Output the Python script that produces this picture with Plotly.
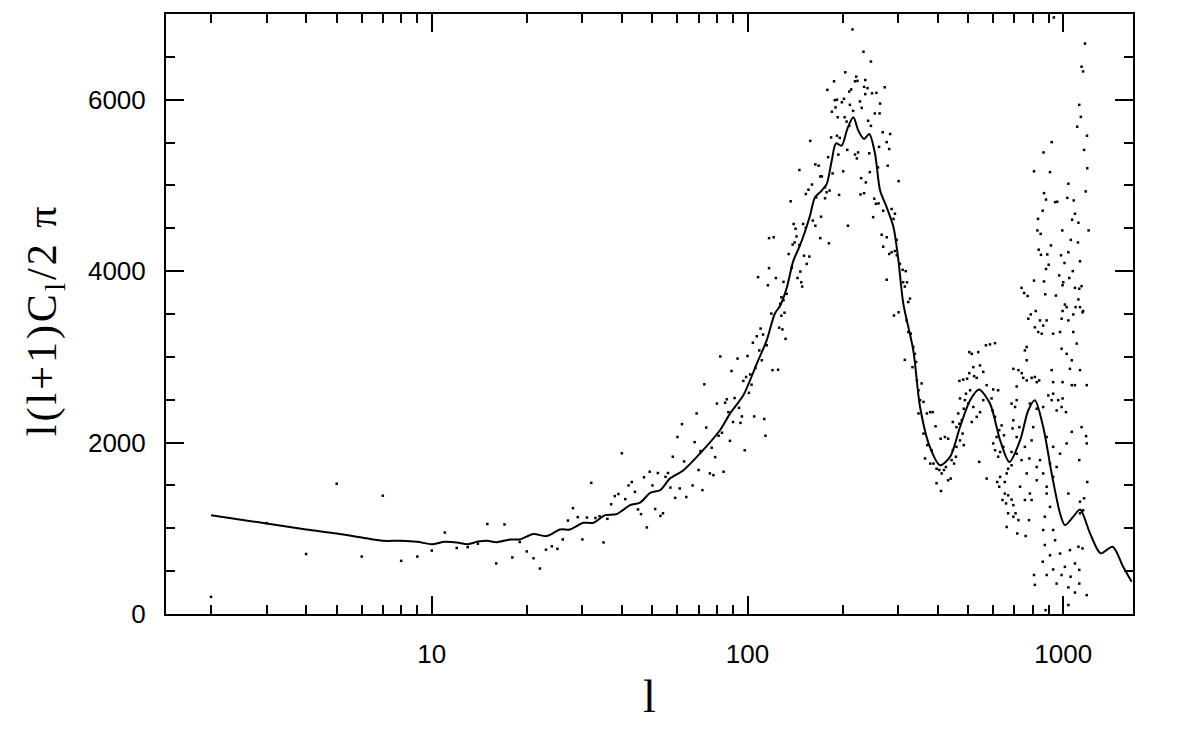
import numpy as np
import plotly.graph_objects as go

# model curve (theory spectrum)
l_model = [2, 3, 4, 5, 6, 7, 8, 9, 10, 11, 12, 13, 14, 15, 16, 17.7, 19, 21, 23.1, 25.5,
           27.4, 30.2, 32.5, 35.4, 38.5, 42.5, 45.7, 49.2, 52.9, 56.8, 62.7, 70.7, 81.8, 88,
           97, 107, 115, 122, 127, 133, 139.7, 146.6, 152, 157.8, 163.6, 171.8, 178.2, 184.8,
           190.7, 198.7, 207, 216.4, 224.4, 234, 243, 253.5, 263, 276, 290, 300.6, 311.5,
           335, 352, 378, 407, 438, 471, 507, 541, 586, 631, 675, 730, 775, 813, 864, 919,
           977, 1012, 1075, 1131, 1216, 1314, 1433, 1548, 1647]
cl_model = [1153, 1056, 986, 940, 893, 854, 854, 842, 815, 842, 835, 815, 845, 854, 838, 870,
            870, 932, 909, 986, 986, 1064, 1064, 1153, 1165, 1270, 1300, 1413, 1445, 1581,
            1678, 1872, 2144, 2338, 2551, 2921, 3192, 3503, 3600, 3800, 4120, 4300, 4460,
            4650, 4862, 4940, 5018, 5289, 5491, 5464, 5658, 5794, 5639, 5542, 5600, 5367,
            4940, 4745, 4512, 4124, 3620, 3076, 2415, 1949, 1736, 1833, 2182, 2493, 2618,
            2455, 2027, 1774, 2027, 2377, 2493, 2182, 1639, 1173, 1037, 1134, 1220, 940, 707,
            784, 551, 376]

# simulated measurements, low l
l_low = list(range(2, 54))
cl_low = [200, 1060, 700, 1520, 670, 1380, 620, 670, 740, 950, 770, 780, 820, 1050, 590,
          1045, 660, 840, 730, 650, 530, 750, 790, 760, 870, 1090, 1235, 1130, 870, 1125,
          1530, 1120, 1140, 835, 1110, 1280, 1375, 1400, 1875, 1340, 1500, 1540, 1425, 1220,
          1165, 1595, 1010, 1660, 1500, 1225, 1645, 1145]

# rising side of the first peak
l_rise = [54, 55, 56, 57, 58, 59, 60, 61, 62, 63, 64, 67, 68, 69, 70, 71, 72, 73, 74, 76,
          77, 78, 79, 80, 81, 82, 83, 84, 85, 86, 87, 88, 89, 90, 91, 93, 94, 95, 96, 97,
          98, 99, 100, 101, 102, 103, 104, 105, 106, 107, 108, 109, 110, 111, 112, 113, 114,
          115, 116, 117, 117, 119, 120, 121, 123, 125, 126, 127, 128, 129, 130, 131, 132,
          133, 135, 138, 139, 141, 142, 140, 143, 144, 147, 148, 149, 146, 150, 151, 154,
          157, 153, 164, 137, 130, 128]
cl_rise = [1175, 1600, 1645, 1475, 1835, 1355, 2065, 1465, 2215, 1780, 1365, 1500, 2005,
           2340, 1680, 1900, 1445, 2680, 2175, 1640, 1940, 1620, 1830, 2455, 2080, 3005, 2115,
           1660, 2465, 2505, 2355, 2020, 2835, 2240, 2520, 2980, 2405, 2230, 2305, 2720, 1910,
           2765, 3010, 2580, 2795, 2675, 3165, 2305, 2870, 3240, 3930, 3075, 3330, 2960, 3260,
           2275, 2080, 3135, 3835, 4035, 4385, 3505, 2845, 4395, 3920, 2850, 3340, 3620, 3480,
           3320, 3875, 3515, 3210, 3735, 4200, 4040, 4310, 4335, 4495, 4550, 4405, 3920, 3995,
           3870, 3820, 4305, 4550, 4180, 4085, 4170, 4505, 4530, 4815, 3660, 3695]

# around the top of the first peak
l_peak = [215, 233, 246, 204, 221, 188, 223, 236, 219, 272, 179, 210, 213, 234, 240, 236,
          248, 256, 189, 192, 199, 202, 227, 263, 190, 211, 216, 230, 253, 262, 185, 193,
          203, 206, 210, 241, 246, 158, 184, 192, 196, 268, 283, 261, 276, 281, 207, 219,
          224, 243, 194, 222, 180, 164, 168, 259, 278, 146, 201, 186, 244, 170, 172, 229,
          237, 301, 160, 176, 182, 178, 153, 156, 195, 228, 234, 165, 176, 252, 260, 255,
          269, 286, 293, 290, 250, 161, 171, 208, 266, 276, 297, 170, 181, 269, 281, 286,
          293, 297, 304, 310, 317, 276, 311, 320, 315, 327, 323, 291, 301, 319, 323, 329, 315]
cl_peak = [6820, 6560, 6445, 6320, 6270, 6215, 6220, 6230, 6215, 6145, 6115, 6095, 6120, 6150,
           6135, 6065, 6075, 6080, 5995, 6000, 5970, 6010, 5980, 5955, 5910, 5940, 5870, 5905,
           5840, 5840, 5860, 5795, 5795, 5745, 5695, 5755, 5695, 5520, 5560, 5580, 5555, 5620,
           5600, 5450, 5505, 5425, 5415, 5360, 5385, 5375, 5360, 5315, 5330, 5245, 5230, 5210,
           5230, 5180, 5165, 5140, 5155, 5105, 5105, 5085, 5035, 5050, 5010, 4980, 4940, 4920,
           4900, 4950, 4890, 4895, 4910, 4860, 4850, 4845, 4790, 4785, 4705, 4725, 4670, 4610,
           4630, 4590, 4635, 4530, 4425, 4395, 4365, 4385, 4325, 4285, 4200, 4220, 4235, 4185,
           4085, 4015, 4000, 3900, 3870, 3870, 3820, 3680, 3640, 3483, 3520, 3425, 3290, 3270,
           2965]

# second and third peaks, trough between
l_mid = [335, 339, 333, 342, 344, 348, 356, 352, 361, 348, 370, 379, 386, 361, 371, 365, 383,
         394, 409, 422, 432, 379, 388, 397, 405, 412, 419, 425, 432, 440, 397, 410, 443, 451,
         457, 447, 459, 484, 471, 480, 459, 447, 469, 477, 465, 484, 471, 488, 500, 492, 507,
         469, 482, 496, 504, 522, 532, 504, 513, 538, 519, 545, 558, 569, 586, 608, 519, 532,
         513, 545, 558, 572, 593, 600, 622, 608, 597, 627, 638, 649, 615, 600, 608, 622, 631,
         646, 542, 572, 618, 631, 627, 653, 662, 669, 686, 653, 669, 642, 659, 686, 695, 669,
         695, 721, 662, 715, 760, 779]
cl_mid = [3115, 3035, 2880, 2940, 2725, 2610, 2690, 2495, 2475, 2340, 2340, 2355, 2355, 2105,
          1970, 1815, 1910, 2190, 2045, 2065, 2045, 1755, 1755, 1695, 1680, 1640, 1680, 1715,
          1560, 1580, 1525, 1435, 1795, 1755, 1835, 1910, 1950, 1970, 2025, 2105, 2180, 2240,
          2220, 2260, 2340, 2395, 2515, 2495, 2455, 2570, 2610, 2720, 2735, 2745, 2810, 2775,
          2755, 3055, 3035, 3055, 2880, 2900, 2825, 3135, 3145, 3160, 2415, 2300, 2240, 2355,
          2495, 2670, 2515, 2620, 2610, 2300, 2375, 2145, 2200, 2085, 2065, 1990, 1910, 1835,
          1890, 1950, 1775, 1580, 1540, 1600, 1485, 1540, 1640, 1695, 1735, 1405, 1385, 1330,
          1290, 1335, 1270, 1175, 1135, 1095, 1015, 940, 910, 1095]

# noisy high-l points
l_high = [691, 712, 726, 695, 704, 686, 712, 695, 721, 739, 747, 766, 794, 813, 839, 824,
          712, 784, 824, 864, 919, 897, 929, 964, 995, 953, 988, 1020, 766, 756, 813, 833,
          864, 844, 886, 855, 929, 977, 988, 1038, 1025, 1076, 1103, 1130, 1151, 1025, 988,
          1064, 1130, 1050, 919, 929, 995, 1064, 1089, 1187, 766, 803, 886, 929, 977, 1025,
          1064, 1143, 1181, 1187, 1124, 1191, 1038, 1130, 1164, 1156, 794, 844, 864, 824,
          784, 794, 886, 908, 874, 864, 929, 942, 874, 908, 977, 1050, 1117, 1151, 861, 929,
          1012, 1089, 1124, 808, 886, 988, 1055, 813, 953, 1038, 1124, 1089, 1187, 1038, 879,
          706, 756, 730, 766, 781, 738, 712, 686, 756, 886, 929, 953, 908, 824, 1130]
cl_high = [2165, 2065, 2180, 2260, 2415, 2455, 2655, 2860, 2845, 2810, 2755, 2725, 2755, 2765,
           2725, 2705, 2495, 2455, 2395, 2415, 2495, 2550, 2570, 2495, 2515, 2375, 2415, 2355,
           3115, 3075, 3345, 3290, 3365, 3425, 3425, 3270, 3270, 3290, 3445, 3425, 3580, 3290,
           3155, 3580, 3520, 3035, 3095, 2960, 2845, 2860, 2845, 2705, 2705, 2670, 2670, 2670,
           2960, 2180, 2065, 1950, 1870, 1990, 2125, 2180, 2075, 1990, 1795, 1540, 1405, 1310,
           1350, 1210, 2025, 1795, 1640, 1560, 1405, 1330, 1405, 1250, 1135, 980, 980, 860,
           805, 685, 705, 745, 785, 765, 610, 520, 550, 590, 515, 455, 455, 455, 435, 340, 355,
           310, 355, 250, 220, 105, 45, 1175, 1330, 1485, 1640, 1815, 1795, 1870, 1890, 1950,
           1485, 1600, 1715, 1755, 1715, 1175]

# highest scatter (top right)
l_top = [934, 1172, 1143, 1156, 1124, 1137, 1107, 1189, 1164, 1191, 919, 866, 808, 908, 1038,
         1178, 869, 882, 942, 957, 1030, 1079, 861, 1089, 832, 1067, 1117, 828, 848, 993,
         1203, 1057, 1113, 914, 836, 850, 890, 984, 1038, 1130, 1009, 899, 882, 1072, 971,
         1045, 808, 869, 1000, 995, 1143, 738, 1089, 1124, 752, 771, 877, 948, 1117, 1012,
         1094, 1156, 818, 995, 1076, 789, 775]
cl_top = [6960, 6655, 6385, 6330, 5940, 5800, 5685, 5580, 5415, 5200, 5505, 5385, 5165, 5155,
          5020, 4930, 4910, 4835, 4805, 4810, 4855, 4825, 4705, 4670, 4610, 4600, 4565, 4475,
          4435, 4475, 4475, 4365, 4335, 4300, 4250, 4190, 4195, 4185, 4220, 4115, 4095, 4075,
          4025, 4000, 3950, 3920, 3890, 3880, 3870, 3835, 3825, 3805, 3805, 3795, 3745, 3710,
          3730, 3715, 3670, 3610, 3580, 3535, 3535, 3535, 3495, 3495, 3445]

l_pts = l_low + l_rise + l_peak + l_mid + l_high + l_top
cl_pts = cl_low + cl_rise + cl_peak + cl_mid + cl_high + cl_top

x_major = [10, 100, 1000]
x_minor = [2, 3, 4, 5, 6, 7, 8, 9, 20, 30, 40, 50, 60, 70, 80, 90,
           200, 300, 400, 500, 600, 700, 800, 900]
y_major = [0, 2000, 4000, 6000]

fig = go.Figure()

fig.add_trace(go.Scatter(
    x=l_pts, y=cl_pts,
    mode='markers',
    marker=dict(color='black', size=2.5, symbol='square', line=dict(width=0)),
    showlegend=False
))

fig.add_trace(go.Scatter(
    x=l_model, y=cl_model,
    mode='lines',
    line=dict(color='black', width=2, shape='spline', smoothing=0.8),
    showlegend=False
))

axis_style = dict(
    showline=True, linecolor='black', linewidth=2, mirror='ticks',
    ticks='inside', ticklen=18, tickwidth=2, tickcolor='black',
    showgrid=False, zeroline=False,
    tickfont=dict(family='Liberation Sans, Arial', size=26, color='black'),
)

fig.update_xaxes(
    type='log', range=[np.log10(1.44), np.log10(1663)],
    tickmode='array', tickvals=x_major, ticktext=[str(v) for v in x_major],
    minor=dict(tickmode='array', tickvals=x_minor, ticks='inside', ticklen=9,
               tickwidth=2, tickcolor='black'),
    ticklabelstandoff=16,
    **axis_style
)
fig.update_yaxes(
    range=[0, 7000],
    tickmode='array', tickvals=y_major, ticktext=[str(v) for v in y_major],
    minor=dict(dtick=500, tick0=0, ticks='inside', ticklen=9,
               tickwidth=2, tickcolor='black'),
    ticklabelstandoff=13,
    **axis_style
)

# page body has an 8px offset, so margins are shifted to keep the frame in place
fig.update_layout(
    width=1196, height=742,
    margin=dict(l=158, r=71, t=4, b=136),
    plot_bgcolor='white', paper_bgcolor='white',
    annotations=[
        dict(text='l', xref='paper', yref='paper', x=0.5, y=-0.137,
             xanchor='center', yanchor='middle', showarrow=False,
             font=dict(family='Liberation Serif, Times New Roman', size=46, color='black')),
        dict(text='<span style="letter-spacing:3px">l(l+1)C<sub>l</sub>/2 π</span>',
             xref='paper', yref='paper', x=-0.125, y=0.49,
             xanchor='center', yanchor='middle', textangle=-90, showarrow=False,
             font=dict(family='Liberation Serif, Times New Roman', size=42, color='black')),
    ]
)

fig.write_html("out.html")
